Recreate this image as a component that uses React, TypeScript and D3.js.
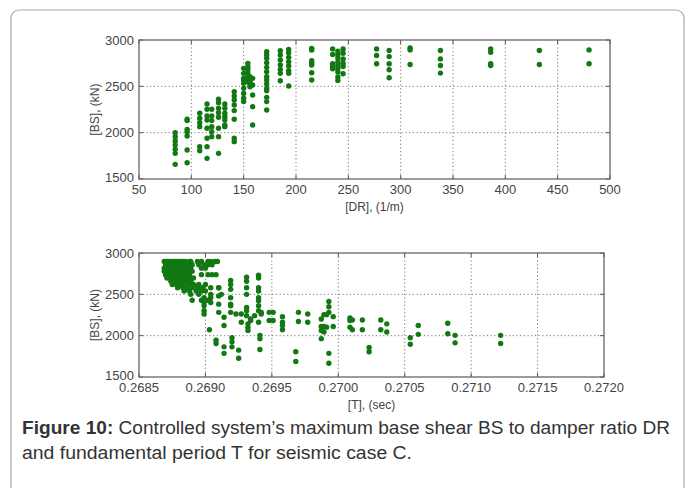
import React, { useRef, useEffect } from "react";
import * as d3 from "d3";

// top panel: damper ratio DR (1/m) columns with their base shear values (kN)
const drColumns: [number, number[]][] = [
  [84.6, [2000, 1957, 1910, 1867, 1820, 1777, 1658]],
  [96, [2144, 2130, 2036, 2011, 1964, 1813, 1676]],
  [108, [2209, 2155, 2108, 2065, 1849, 1806]],
  [115, [2309, 2252, 2180, 2137, 2047, 1939, 1849, 1723]],
  [119.5, [2252, 2180, 2130, 2065, 2011, 1957]],
  [126, [2360, 2324, 2263, 2216, 2166, 2047, 1957, 1777]],
  [132, [2309, 2263, 2209, 2173, 2137, 2083, 2065]],
  [141, [2442, 2396, 2353, 2299, 2238, 2144, 1939, 1903]],
  [150, [2694, 2640, 2586, 2568, 2532, 2478, 2424, 2371, 2335]],
  [154, [2748, 2712, 2683, 2647, 2611, 2586, 2550]],
  [156, [2604, 2575, 2550, 2525, 2496]],
  [158.6, [2586, 2514, 2406, 2281, 2083]],
  [172, [2874, 2838, 2802, 2755, 2705, 2658, 2604, 2568, 2525, 2478, 2453, 2381, 2335, 2245]],
  [185, [2885, 2838, 2784, 2730, 2683, 2640, 2561]],
  [193, [2899, 2863, 2813, 2766, 2719, 2669, 2640, 2504]],
  [215, [2910, 2892, 2777, 2748, 2730, 2647, 2568]],
  [235, [2904, 2843, 2743, 2714, 2689]],
  [240, [2879, 2843, 2807, 2761, 2725, 2689, 2654, 2600, 2564]],
  [245, [2904, 2857, 2796, 2750, 2714, 2636]],
  [277, [2904, 2832, 2743]],
  [289, [2886, 2821, 2743, 2679, 2593]],
  [309, [2914, 2893, 2736]],
  [338, [2886, 2796, 2725, 2643]],
  [386, [2904, 2868, 2743, 2725]],
  [432.5, [2886, 2736]],
  [480, [2893, 2743]],
];

// bottom panel: dense cluster near T = 0.2687..0.2691, read row by row (BS, list of T)
const tClusterRows: [number, number[]][] = [
  [2897, [0.26869, 0.26871, 0.26873, 0.26875, 0.26877, 0.26879, 0.26881, 0.26883, 0.26885, 0.26888, 0.26889, 0.26894, 0.26897, 0.26902, 0.26904, 0.26907, 0.26909]],
  [2857, [0.2687, 0.26873, 0.26875, 0.26878, 0.2688, 0.26883, 0.26885, 0.26888, 0.2689, 0.26895, 0.26899, 0.26902, 0.26905]],
  [2817, [0.26869, 0.26871, 0.26874, 0.26876, 0.26879, 0.26881, 0.26884, 0.26886, 0.26889, 0.26897, 0.269]],
  [2778, [0.26869, 0.26872, 0.26874, 0.26877, 0.26879, 0.26882, 0.26884, 0.26887, 0.2689]],
  [2738, [0.2687, 0.26873, 0.26875, 0.26878, 0.2688, 0.26883, 0.26885, 0.26888, 0.26897, 0.26902, 0.26905, 0.26908]],
  [2698, [0.26871, 0.26874, 0.26876, 0.26879, 0.26881, 0.26884, 0.26886, 0.26889, 0.26891]],
  [2659, [0.26874, 0.26876, 0.26879, 0.26881, 0.26884, 0.26886, 0.26889]],
  [2619, [0.26875, 0.26878, 0.26881, 0.26884, 0.26888, 0.26891, 0.26895, 0.269]],
  [2579, [0.26879, 0.26883, 0.26886, 0.2689, 0.26894, 0.26898, 0.26904, 0.2691]],
  [2540, [0.26884, 0.26888, 0.26893, 0.26897, 0.269]],
  [2500, [0.26889, 0.26895, 0.26904, 0.26912]],
  [2429, [0.2689, 0.26897, 0.26902]],
];

// bottom panel: scattered columns (T, list of BS)
const tColumns: [number, number[]][] = [
  [0.26899, [2460, 2401, 2361, 2302, 2262]],
  [0.26903, [2071]],
  [0.26904, [2460, 2401]],
  [0.26908, [1944, 1905]],
  [0.2691, [2579, 2480, 2381, 2282]],
  [0.26914, [2222, 2123, 1865, 1786]],
  [0.26919, [2667, 2619, 2560, 2460, 2381, 2361, 2282]],
  [0.2692, [1976, 1925, 1865]],
  [0.26923, [2262]],
  [0.26925, [1825, 1726]],
  [0.26927, [2262, 2163]],
  [0.26931, [2706, 2659, 2579, 2500, 2341, 2302, 2242]],
  [0.26932, [2143, 2103, 2064]],
  [0.26934, [2202, 2183]],
  [0.26937, [2242]],
  [0.2694, [2730, 2698, 2579, 2540, 2460, 2421, 2361, 2302, 2163]],
  [0.26941, [2004, 1964, 1833]],
  [0.26942, [2282, 2262]],
  [0.26948, [2282, 2183]],
  [0.26951, [2282, 2183]],
  [0.26958, [2230, 2163, 2123, 2071]],
  [0.26968, [1806, 1687]],
  [0.2697, [2282, 2171]],
  [0.26977, [2262, 2163]],
  [0.269872, [2202, 2111, 2064, 1964]],
  [0.269892, [2254, 2111, 2044]],
  [0.269912, [2254, 2103]],
  [0.269929, [2413, 2349, 2282, 1786, 1667]],
  [0.269962, [2230, 2111]],
  [0.270088, [2214, 2183, 2103]],
  [0.270106, [2190, 2071]],
  [0.270181, [2190, 2071]],
  [0.270232, [1857, 1806]],
  [0.27032, [2190, 2071]],
  [0.270365, [2143, 2044]],
  [0.270542, [1976, 1897]],
  [0.270602, [2123, 2016]],
  [0.270824, [2151, 2024]],
  [0.270879, [2004, 1913]],
  [0.271222, [2004, 1905]],
];

const drTicks = [50, 100, 150, 200, 250, 300, 350, 400, 450, 500];
const tTicks = [0.2685, 0.269, 0.2695, 0.27, 0.2705, 0.271, 0.2715, 0.272];
const bsTicks = [1500, 2000, 2500, 3000];

const FONT = "'Liberation Sans', Arial, sans-serif";
const GREEN = "#127812";

type Pt = [number, number];

const drawPanel = (
  root: d3.Selection<SVGGElement, unknown, null, undefined>,
  box: { left: number; right: number; top: number; bottom: number },
  xDomain: [number, number],
  xTicks: number[],
  xFormat: (v: number) => string,
  points: Pt[],
  xLabel: string
) => {
  const x = d3.scaleLinear().domain(xDomain).range([box.left, box.right]);
  const y = d3.scaleLinear().domain([1500, 3000]).range([box.bottom, box.top]);
  const g = root.append("g");

  // dotted grid
  g.selectAll(".vgrid")
    .data(xTicks.slice(1, -1))
    .join("line")
    .attr("x1", (d) => x(d))
    .attr("x2", (d) => x(d))
    .attr("y1", box.top)
    .attr("y2", box.bottom)
    .attr("stroke", "#777")
    .attr("stroke-width", 1)
    .attr("stroke-dasharray", "1.2,2.5");
  g.selectAll(".hgrid")
    .data(bsTicks.slice(1, -1))
    .join("line")
    .attr("x1", box.left)
    .attr("x2", box.right)
    .attr("y1", (d) => y(d))
    .attr("y2", (d) => y(d))
    .attr("stroke", "#777")
    .attr("stroke-width", 1)
    .attr("stroke-dasharray", "1.2,2.5");

  // inner ticks on all four sides
  xTicks.forEach((t) => {
    g.append("line").attr("x1", x(t)).attr("x2", x(t)).attr("y1", box.bottom).attr("y2", box.bottom - 4).attr("stroke", "#555");
    g.append("line").attr("x1", x(t)).attr("x2", x(t)).attr("y1", box.top).attr("y2", box.top + 4).attr("stroke", "#555");
  });
  bsTicks.forEach((t) => {
    g.append("line").attr("x1", box.left).attr("x2", box.left + 4).attr("y1", y(t)).attr("y2", y(t)).attr("stroke", "#555");
    g.append("line").attr("x1", box.right).attr("x2", box.right - 4).attr("y1", y(t)).attr("y2", y(t)).attr("stroke", "#555");
  });

  g.append("rect")
    .attr("x", box.left)
    .attr("y", box.top)
    .attr("width", box.right - box.left)
    .attr("height", box.bottom - box.top)
    .attr("fill", "none")
    .attr("stroke", "#666")
    .attr("stroke-width", 1.3);

  // tick labels
  g.selectAll(".xl")
    .data(xTicks)
    .join("text")
    .attr("x", (d) => x(d))
    .attr("y", box.bottom + 15)
    .attr("text-anchor", "middle")
    .attr("font-family", FONT)
    .attr("font-size", 13)
    .attr("fill", "#444")
    .text((d) => xFormat(d));
  g.selectAll(".yl")
    .data(bsTicks)
    .join("text")
    .attr("x", box.left - 5)
    .attr("y", (d) => y(d) + (d === 1500 ? 2.5 : 4.5))
    .attr("text-anchor", "end")
    .attr("font-family", FONT)
    .attr("font-size", 13)
    .attr("fill", "#444")
    .text((d) => String(d));

  g.append("text")
    .attr("x", (box.left + box.right) / 2)
    .attr("y", box.bottom + 32)
    .attr("text-anchor", "middle")
    .attr("font-family", FONT)
    .attr("font-size", 12)
    .attr("fill", "#444")
    .text(xLabel);
  g.append("text")
    .attr("transform", `translate(${box.left - 40},${(box.top + box.bottom) / 2}) rotate(-90)`)
    .attr("text-anchor", "middle")
    .attr("font-family", FONT)
    .attr("font-size", 12)
    .attr("fill", "#444")
    .text("[BS], (kN)");

  // the design points
  g.selectAll(".pt")
    .data(points)
    .join("circle")
    .attr("cx", (d) => x(d[0]))
    .attr("cy", (d) => y(d[1]))
    .attr("r", 2.7)
    .attr("fill", GREEN);
};

const App = () => {
  const svgRef = useRef<SVGSVGElement>(null);

  useEffect(() => {
    const svg = d3.select(svgRef.current);
    svg.selectAll("*").remove();
    const root = svg.append("g") as d3.Selection<SVGGElement, unknown, null, undefined>;

    // outer figure frame
    root.append("rect")
      .attr("x", 11)
      .attr("y", 10)
      .attr("width", 673)
      .attr("height", 520)
      .attr("rx", 8)
      .attr("fill", "#fff")
      .attr("stroke", "#a8a8a8")
      .attr("stroke-width", 1.2);

    const drPoints: Pt[] = drColumns.flatMap(([dr, list]) => list.map((bs) => [dr, bs] as Pt));
    const tPoints: Pt[] = [
      ...tClusterRows.flatMap(([bs, list]) => list.map((t) => [t, bs] as Pt)),
      ...tColumns.flatMap(([t, list]) => list.map((bs) => [t, bs] as Pt)),
    ];

    drawPanel(root, { left: 139, right: 610, top: 40, bottom: 179 }, [50, 500], drTicks, (d) => String(d), drPoints, "[DR], (1/m)");
    drawPanel(root, { left: 139, right: 604, top: 253, bottom: 377 }, [0.2685, 0.272], tTicks, d3.format(".4f"), tPoints, "[T], (sec)");

    const cap = root.append("text")
      .attr("x", 22)
      .attr("y", 434)
      .attr("font-family", FONT)
      .attr("font-size", 17.5)
      .attr("fill", "#333")
      .attr("textLength", 648)
      .attr("lengthAdjust", "spacingAndGlyphs");
    cap.append("tspan").attr("font-weight", "bold").text("Figure 10:");
    cap.append("tspan").text(" Controlled system\u2019s maximum base shear BS to damper ratio DR");
    root.append("text")
      .attr("x", 22)
      .attr("y", 459)
      .attr("font-family", FONT)
      .attr("font-size", 17.5)
      .attr("fill", "#333")
      .attr("textLength", 390)
      .attr("lengthAdjust", "spacingAndGlyphs")
      .text("and fundamental period T for seismic case C.");
  }, []);

  return (
    <svg
      ref={svgRef}
      width={695}
      height={488}
      style={{ position: "absolute", left: 0, top: 0, background: "#fff" }}
    />
  );
};

export default App;
